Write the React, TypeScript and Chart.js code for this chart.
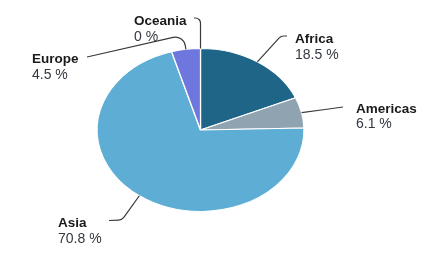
import React, { useEffect, useRef } from "react";
import { Chart, registerables } from "chart.js";

Chart.register(...registerables);

const categories = ["Africa", "Americas", "Asia", "Europe", "Oceania"];
const shares = [18.5, 6.1, 70.8, 4.5, 0];
const sliceColors = ["#1e6588", "#8fa3b0", "#5eadd5", "#6e77dd", "#b0c4de"];

// leader-line / label layout relative to pie centre (pixels)
const leaderLayout = [
  { elbow: [80.5, -94], end: [86.5, -94], label: [94.5, -87], r: 6 },
  { elbow: [124.5, -20.5], end: [142.5, -23], label: [155.5, -17.3], r: 4 },
  { elbow: [-78.5, 90], end: [-91.5, 90.5], label: [-142.5, 97], r: 7 },
  { elbow: [-17, -95], end: [-113.5, -73], label: [-168.5, -67], r: 10 },
  { elbow: [0, -112], end: [-6.5, -112], label: [-66.5, -105], r: 5 },
];

const ELLIPSE_X = 103.5 / 81.5;

const ellipsePlugin = {
  id: "ellipse",
  beforeDatasetsDraw(chart: any) {
    const arc = chart.getDatasetMeta(0).data[0];
    if (!arc) return;
    const ctx = chart.ctx;
    ctx.save();
    ctx.translate(arc.x, arc.y);
    ctx.scale(ELLIPSE_X, 1);
    ctx.translate(-arc.x, -arc.y);
  },
  afterDatasetsDraw(chart: any) {
    chart.ctx.restore();
  },
};

const labelPlugin = {
  id: "outerLabels",
  afterDraw(chart: any) {
    const ctx = chart.ctx;
    const meta = chart.getDatasetMeta(0);
    meta.data.forEach((arc: any, i: number) => {
      const lay = leaderLayout[i];
      if (!lay) return;
      const cx = arc.x;
      const cy = arc.y;
      const R = arc.outerRadius;
      const mid = (arc.startAngle + arc.endAngle) / 2;
      const px = cx + ELLIPSE_X * R * Math.cos(mid);
      const py = cy + R * Math.sin(mid);
      const ex = cx + lay.elbow[0];
      const ey = cy + lay.elbow[1];
      const tx = cx + lay.end[0];
      const ty = cy + lay.end[1];
      ctx.save();
      ctx.strokeStyle = "#3a3a3a";
      ctx.lineWidth = 1.2;
      ctx.beginPath();
      ctx.moveTo(px, py);
      ctx.arcTo(ex, ey, tx, ty, lay.r);
      ctx.lineTo(tx, ty);
      ctx.stroke();

      const lx = cx + lay.label[0];
      const ly = cy + lay.label[1];
      ctx.textAlign = "left";
      ctx.textBaseline = "alphabetic";
      ctx.fillStyle = "#1a1a1a";
      ctx.font = "bold 13.5px 'Liberation Sans', Arial, sans-serif";
      ctx.fillText(categories[i], lx, ly);
      ctx.fillStyle = "#333840";
      ctx.font = "14px 'Liberation Sans', Arial, sans-serif";
      ctx.fillText(String(shares[i]) + " %", lx, ly + 15.7);
      ctx.restore();
    });
  },
};

export default function App() {
  const ref = useRef<HTMLCanvasElement>(null);
  useEffect(() => {
    if (!ref.current) return;
    const chart = new Chart(ref.current, {
      type: "pie",
      data: {
        labels: categories,
        datasets: [
          {
            data: shares,
            backgroundColor: sliceColors,
            borderColor: "#ffffff",
            borderWidth: 1,
          },
        ],
      },
      options: {
        animation: false,
        responsive: true,
        maintainAspectRatio: false,
        layout: { padding: { top: 48, bottom: 49, left: 100, right: 146 } },
        plugins: {
          legend: { display: false },
          tooltip: { enabled: false },
        },
        events: [],
      },
      plugins: [ellipsePlugin, labelPlugin],
    });
    return () => chart.destroy();
  }, []);
  return (
    <div style={{ position: "fixed", left: 0, top: 0, width: 447, height: 261, background: "#fff" }}>
      <canvas ref={ref} />
    </div>
  );
}
